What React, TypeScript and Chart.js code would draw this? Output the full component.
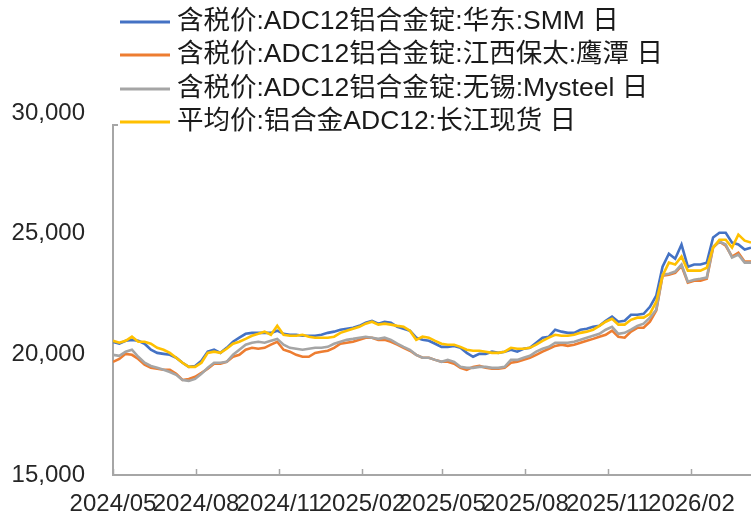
import { useEffect, useRef } from 'react';
import { Chart, registerables } from 'chart.js';

Chart.register(...registerables);

const dates = [
  '2024-05-01','2024-05-08','2024-05-15','2024-05-22','2024-05-29','2024-06-05','2024-06-12','2024-06-19','2024-06-26','2024-07-03',
  '2024-07-10','2024-07-17','2024-07-24','2024-07-31','2024-08-07','2024-08-14','2024-08-21','2024-08-28','2024-09-04','2024-09-11',
  '2024-09-18','2024-09-25','2024-10-02','2024-10-09','2024-10-16','2024-10-23','2024-10-30','2024-11-06','2024-11-13','2024-11-20',
  '2024-11-27','2024-12-04','2024-12-11','2024-12-18','2024-12-25','2025-01-01','2025-01-08','2025-01-15','2025-01-22','2025-01-29',
  '2025-02-05','2025-02-12','2025-02-19','2025-02-26','2025-03-05','2025-03-12','2025-03-19','2025-03-26','2025-04-02','2025-04-09',
  '2025-04-16','2025-04-23','2025-04-30','2025-05-07','2025-05-14','2025-05-21','2025-05-28','2025-06-04','2025-06-11','2025-06-18',
  '2025-06-25','2025-07-02','2025-07-09','2025-07-16','2025-07-23','2025-07-30','2025-08-06','2025-08-13','2025-08-20','2025-08-27',
  '2025-09-03','2025-09-10','2025-09-17','2025-09-24','2025-10-01','2025-10-08','2025-10-15','2025-10-22','2025-10-29','2025-11-05',
  '2025-11-12','2025-11-19','2025-11-26','2025-12-03','2025-12-10','2025-12-17','2025-12-24','2025-12-31','2026-01-07','2026-01-14',
  '2026-01-21','2026-01-28','2026-02-04','2026-02-11','2026-02-18','2026-02-25','2026-03-04','2026-03-11','2026-03-18','2026-03-25',
  '2026-04-01','2026-04-08',
];

const smmHuadong = [
  20520,20440,20560,20600,20560,20440,20190,20060,20020,19980,
  19860,19650,19480,19520,19730,20110,20190,20060,20270,20520,
  20690,20850,20890,20890,20890,20890,20980,20850,20810,20810,
  20770,20770,20770,20810,20890,20940,21020,21060,21100,21180,
  21310,21390,21270,21350,21310,21140,21060,20980,20690,20600,
  20560,20440,20310,20310,20350,20270,20060,19900,20020,20020,
  20110,20060,20110,20190,20110,20230,20270,20480,20690,20730,
  21020,20940,20890,20890,21020,21060,21140,21180,21390,21560,
  21350,21390,21640,21640,21680,21970,22430,23630,24170,23960,
  24550,23630,23720,23720,23800,24840,25040,25040,24630,24550,
  24340,24420,
];

const jiangxiBaotai = [
  19690,19810,20020,19980,19810,19570,19440,19400,19360,19360,
  19190,18940,18980,19070,19230,19400,19610,19610,19690,19900,
  19980,20190,20270,20230,20270,20400,20520,20190,20110,19980,
  19900,19900,20060,20110,20150,20270,20440,20480,20520,20600,
  20690,20690,20600,20600,20520,20400,20270,20150,19980,19860,
  19860,19770,19690,19690,19610,19440,19360,19480,19520,19440,
  19400,19400,19440,19650,19690,19770,19860,19980,20110,20230,
  20350,20400,20350,20400,20480,20560,20640,20730,20810,20980,
  20730,20690,20940,21100,21100,21350,21810,23260,23300,23380,
  23670,22970,23050,23050,23130,24420,24670,24500,24050,24210,
  23840,23840,
];

const wuxiMysteel = [
  19980,19940,20110,20190,19900,19650,19520,19440,19360,19270,
  19150,18940,18900,18980,19190,19440,19650,19650,19690,19980,
  20190,20400,20480,20520,20480,20560,20640,20400,20270,20230,
  20190,20230,20270,20270,20310,20440,20520,20600,20640,20690,
  20730,20690,20640,20690,20600,20440,20310,20190,19980,19860,
  19860,19770,19690,19770,19690,19480,19440,19440,19480,19480,
  19440,19440,19480,19770,19770,19860,19940,20110,20230,20310,
  20480,20480,20480,20520,20600,20690,20770,20850,21020,21140,
  20850,20890,21020,21180,21270,21520,21850,23300,23340,23430,
  23720,23010,23090,23130,23180,24460,24670,24550,24010,24130,
  23800,23800,
];

const changjiangAvg = [
  20560,20480,20560,20730,20520,20520,20440,20270,20190,20060,
  19860,19650,19480,19480,19650,20060,20110,20060,20230,20440,
  20520,20640,20770,20850,20940,20810,21180,20810,20770,20770,
  20810,20730,20690,20690,20690,20730,20890,20980,21060,21140,
  21270,21350,21230,21270,21230,21180,21140,20980,20600,20730,
  20690,20560,20440,20400,20400,20310,20190,20150,20150,20110,
  20060,20060,20110,20270,20230,20230,20270,20400,20560,20690,
  20810,20770,20770,20810,20890,20940,21020,21180,21350,21470,
  21230,21230,21430,21520,21520,21680,22180,23260,23800,23720,
  24050,23470,23470,23470,23590,24420,24750,24750,24420,24960,
  24710,24630,
];

const seriesNames = [
  '含税价:ADC12铝合金锭:华东:SMM 日',
  '含税价:ADC12铝合金锭:江西保太:鹰潭 日',
  '含税价:ADC12铝合金锭:无锡:Mysteel 日',
  '平均价:铝合金ADC12:长江现货 日',
];
const seriesColors = ['#4472C4', '#ED7D31', '#A5A5A5', '#FFC000'];

const tickDates = ['2024-05-01','2024-08-01','2024-11-01','2025-02-01','2025-05-01','2025-08-01','2025-11-01','2026-02-01'];
const tickLabels = ['2024/05','2024/08','2024/11','2025/02','2025/05','2025/08','2025/11','2026/02'];

const yMin = 15000;
const yMax = 30000;
const yStep = 5000;

const DAY = 86400000;
const ORIGIN = Date.UTC(2024, 4, 1);
const toDay = (s: string) => {
  const [y, m, d] = s.split('-').map(Number);
  return (Date.UTC(y, m - 1, d) - ORIGIN) / DAY;
};

const FONT = "'Liberation Sans', Arial, 'Noto Sans CJK SC', sans-serif";
const AXIS_COLOR = '#A6A6A6';

// inner tick marks on the x axis (pointing up into the plot)
const innerTicksPlugin = {
  id: 'innerTicks',
  afterDatasetsDraw(chart: any) {
    const ctx = chart.ctx as CanvasRenderingContext2D;
    const xs = chart.scales.x;
    const bottom = chart.chartArea.bottom;
    ctx.save();
    ctx.strokeStyle = AXIS_COLOR;
    ctx.lineWidth = 1.5;
    xs.ticks.forEach((t: any) => {
      const px = Math.round(xs.getPixelForValue(t.value)) + 0.5;
      ctx.beginPath();
      ctx.moveTo(px, bottom);
      ctx.lineTo(px, bottom - 6);
      ctx.stroke();
    });
    ctx.restore();
  },
};

const legendPlugin = {
  id: 'customLegend',
  afterDraw(chart: any) {
    const ctx = chart.ctx as CanvasRenderingContext2D;
    const rows = [22, 55, 89, 122];
    ctx.save();
    // legend box background covers the top of the axis line
    ctx.fillStyle = '#ffffff';
    ctx.fillRect(112, 0, 570, 124);
    ctx.strokeStyle = AXIS_COLOR;
    ctx.lineWidth = 2;
    ctx.beginPath();
    ctx.moveTo(113, 125);
    ctx.lineTo(118, 125);
    ctx.stroke();
    chart.data.datasets.forEach((ds: any, i: number) => {
      const y = rows[i];
      ctx.strokeStyle = ds.borderColor;
      ctx.lineWidth = 3;
      ctx.beginPath();
      ctx.moveTo(120, y);
      ctx.lineTo(170, y);
      ctx.stroke();
      ctx.fillStyle = '#1a1a1a';
      ctx.font = `26.5px ${FONT}`;
      ctx.textBaseline = 'middle';
      ctx.textAlign = 'left';
      ctx.fillText(ds.label, 177, y);
    });
    ctx.restore();
  },
};

export default function App() {
  const canvasRef = useRef<HTMLCanvasElement | null>(null);

  useEffect(() => {
    document.body.style.margin = '0';
    const canvas = canvasRef.current;
    if (!canvas) return;
    const seriesValues = [smmHuadong, jiangxiBaotai, wuxiMysteel, changjiangAvg];
    const xs = dates.map(toDay);
    const tickDays = tickDates.map(toDay);
    const chart = new Chart(canvas, {
      type: 'line',
      data: {
        datasets: seriesValues.map((vals, i) => ({
          label: seriesNames[i],
          data: vals.map((v, j) => ({ x: xs[j], y: v })),
          borderColor: seriesColors[i],
          backgroundColor: seriesColors[i],
          borderWidth: 2.6,
          pointRadius: 0,
          tension: 0,
          order: 4 - i,
        })),
      },
      options: {
        animation: false,
        responsive: false,
        maintainAspectRatio: false,
        layout: { padding: { top: 113, left: 0, right: 0, bottom: 0 } },
        plugins: {
          legend: { display: false },
          tooltip: { enabled: false },
        },
        scales: {
          x: {
            type: 'linear',
            min: xs[0],
            max: xs[xs.length - 1],
            afterBuildTicks: (scale: any) => {
              scale.ticks = tickDays.map((v) => ({ value: v }));
            },
            afterFit: (scale: any) => {
              scale.height = 39;
            },
            ticks: {
              autoSkip: false,
              maxRotation: 0,
              minRotation: 0,
              padding: 7,
              color: '#262626',
              font: { family: FONT, size: 24 },
              callback: (_v: any, i: number) => tickLabels[i],
            },
            grid: { display: false },
            border: { display: true, color: AXIS_COLOR, width: 2 },
          },
          y: {
            min: yMin,
            max: yMax,
            afterFit: (scale: any) => {
              scale.width = 113;
            },
            ticks: {
              stepSize: yStep,
              padding: 20,
              color: '#262626',
              font: { family: FONT, size: 24 },
              callback: (v: any) => Number(v).toLocaleString('en-US'),
            },
            grid: { display: false },
            border: { display: true, color: AXIS_COLOR, width: 2 },
          },
        },
      },
      plugins: [innerTicksPlugin, legendPlugin],
    });
    return () => chart.destroy();
  }, []);

  return (
    <div style={{ width: 751, height: 514, background: '#fff' }}>
      <canvas ref={canvasRef} width={751} height={514} style={{ width: 751, height: 514, display: 'block' }} />
    </div>
  );
}
